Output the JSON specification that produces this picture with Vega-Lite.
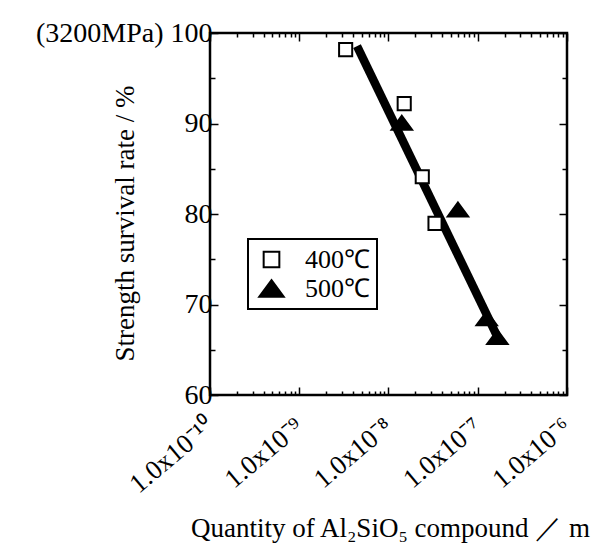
{
  "$schema": "https://vega.github.io/schema/vega-lite/v6.json",
  "width": 357,
  "height": 362,
  "autosize": "none",
  "padding": {"left": 210, "top": 33, "right": 37, "bottom": 153},
  "background": "white",
  "config": {
    "font": "Liberation Serif",
    "view": {"stroke": "black", "strokeWidth": 2.5},
    "axis": {
      "domain": false,
      "grid": false,
      "tickColor": "black",
      "tickWidth": 1.5,
      "labelColor": "black",
      "titleColor": "black",
      "labelFont": "Liberation Serif",
      "titleFont": "Liberation Serif",
      "titleFontWeight": "normal"
    },
    "legend": {"strokeWidth": 2}
  },
  "datasets": {
    "fit": [
      {"q": 4.44e-9, "s": 98.56},
      {"q": 1.77e-7, "s": 65.86}
    ],
    "points": [
      {"temp": "400℃", "q": 3.31e-9, "s": 98.16},
      {"temp": "400℃", "q": 1.50e-8, "s": 92.19},
      {"temp": "400℃", "q": 2.39e-8, "s": 84.12},
      {"temp": "400℃", "q": 3.32e-8, "s": 78.97},
      {"temp": "500℃", "q": 1.41e-8, "s": 90.09},
      {"temp": "500℃", "q": 6.0e-8, "s": 80.5},
      {"temp": "500℃", "q": 1.26e-7, "s": 68.47},
      {"temp": "500℃", "q": 1.66e-7, "s": 66.4}
    ]
  },
  "layer": [
    {
      "data": {"name": "fit"},
      "mark": {"type": "line", "color": "black", "strokeWidth": 8.5},
      "encoding": {
        "x": {
          "field": "q",
          "type": "quantitative",
          "scale": {"type": "log", "domain": [1e-10, 1e-6]},
          "axis": {
            "orient": "bottom",
            "values": [1e-10, 2e-10, 3e-10, 4e-10, 5e-10, 6e-10, 7e-10, 8e-10, 9e-10, 1e-9, 2e-9, 3e-9, 4e-9, 5e-9, 6e-9, 7e-9, 8e-9, 9e-9, 1e-8, 2e-8, 3e-8, 4e-8, 5e-8, 6e-8, 7e-8, 8e-8, 9e-8, 1e-7, 2e-7, 3e-7, 4e-7, 5e-7, 6e-7, 7e-7, 8e-7, 9e-7, 1e-6],
            "tickSize": {"condition": {"test": "abs(log(datum.value)/LN10 - round(log(datum.value)/LN10)) < 0.001", "value": -8}, "value": -4},
            "labelExpr": "abs(log(datum.value)/LN10 - round(log(datum.value)/LN10)) > 0.001 ? '' : datum.value < 5e-10 ? '1.0x10⁻¹⁰' : datum.value < 5e-9 ? '1.0x10⁻⁹' : datum.value < 5e-8 ? '1.0x10⁻⁸' : datum.value < 5e-7 ? '1.0x10⁻⁷' : '1.0x10⁻⁶'",
            "labelOverlap": false,
            "labelBound": false,
            "labelFlush": false,
            "labelAngle": -40,
            "labelAlign": "right",
            "labelBaseline": "middle",
            "labelFont": "Liberation Serif",
            "labelFontSize": 27,
            "labelPadding": 36,
            "title": "Quantity of Al₂SiO₅ compound ／ m",
            "titleFont": "Liberation Serif",
            "titleFontSize": 27,
            "titleX": 180,
            "titleY": 133,
            "titleAlign": "center",
            "titleBaseline": "middle"
          }
        },
        "y": {
          "field": "s",
          "type": "quantitative",
          "scale": {"domain": [60, 100]},
          "axis": {
            "orient": "left",
            "values": [60, 65, 70, 75, 80, 85, 90, 95, 100],
            "tickSize": {"condition": {"test": "datum.value % 10 == 0", "value": -8}, "value": -5},
            "labelExpr": "datum.value % 10 != 0 ? '' : datum.value == 100 ? '(3200MPa) 100' : datum.label",
            "labelFont": "Liberation Serif",
            "labelFontSize": 28,
            "labelPadding": 6,
            "labelLimit": 400,
            "labelBaseline": "middle",
            "title": "Strength survival rate / %",
            "titleFont": "Liberation Serif",
            "titleFontSize": 27,
            "titleAngle": -90,
            "titleX": -85,
            "titleY": 190,
            "titleAlign": "center",
            "titleBaseline": "middle"
          }
        }
      }
    },
    {
      "data": {"name": "points"},
      "mark": {"type": "point", "strokeWidth": 2, "opacity": 1, "size": 420},
      "encoding": {
        "x": {
          "field": "q",
          "type": "quantitative",
          "scale": {"type": "log", "domain": [1e-10, 1e-6]},
          "axis": {
            "orient": "top",
            "values": [1e-10, 2e-10, 3e-10, 4e-10, 5e-10, 6e-10, 7e-10, 8e-10, 9e-10, 1e-9, 2e-9, 3e-9, 4e-9, 5e-9, 6e-9, 7e-9, 8e-9, 9e-9, 1e-8, 2e-8, 3e-8, 4e-8, 5e-8, 6e-8, 7e-8, 8e-8, 9e-8, 1e-7, 2e-7, 3e-7, 4e-7, 5e-7, 6e-7, 7e-7, 8e-7, 9e-7, 1e-6],
            "tickSize": {"condition": {"test": "abs(log(datum.value)/LN10 - round(log(datum.value)/LN10)) < 0.001", "value": -8}, "value": -4},
            "labels": false,
            "title": null
          }
        },
        "y": {
          "field": "s",
          "type": "quantitative",
          "scale": {"domain": [60, 100]},
          "axis": {
            "orient": "right",
            "values": [60, 65, 70, 75, 80, 85, 90, 95, 100],
            "tickSize": {"condition": {"test": "datum.value % 10 == 0", "value": -8}, "value": -5},
            "labels": false,
            "title": null
          }
        },
        "shape": {
          "field": "temp",
          "type": "nominal",
          "scale": {"domain": ["400℃", "500℃"], "range": ["M-0.64,-0.64L0.64,-0.64L0.64,0.64L-0.64,0.64Z", "M0,-0.68L1,0.68L-1,0.68Z"]},
          "legend": {
            "title": null,
            "orient": "none",
            "legendX": 38,
            "legendY": 206,
            "strokeColor": "black",
            "fillColor": "white",
            "padding": 7,
            "symbolOffset": 3,
            "symbolSize": 600,
            "symbolStrokeWidth": 2,
            "labelFontSize": 26,
            "labelColor": "black",
            "labelFont": "Liberation Serif",
            "labelOffset": 20,
            "rowPadding": 2
          }
        },
        "fill": {
          "field": "temp",
          "type": "nominal",
          "scale": {"domain": ["400℃", "500℃"], "range": ["white", "black"]},
          "legend": {
            "title": null,
            "orient": "none",
            "legendX": 38,
            "legendY": 206,
            "strokeColor": "black",
            "fillColor": "white",
            "padding": 7,
            "symbolOffset": 3,
            "symbolSize": 600,
            "symbolStrokeWidth": 2,
            "labelFontSize": 26,
            "labelColor": "black",
            "labelFont": "Liberation Serif",
            "labelOffset": 20,
            "rowPadding": 2
          }
        },
        "stroke": {
          "field": "temp",
          "type": "nominal",
          "scale": {"domain": ["400℃", "500℃"], "range": ["black", "black"]},
          "legend": {
            "title": null,
            "orient": "none",
            "legendX": 38,
            "legendY": 206,
            "strokeColor": "black",
            "fillColor": "white",
            "padding": 7,
            "symbolOffset": 3,
            "symbolSize": 600,
            "symbolStrokeWidth": 2,
            "labelFontSize": 26,
            "labelColor": "black",
            "labelFont": "Liberation Serif",
            "labelOffset": 20,
            "rowPadding": 2
          }
        }
      }
    }
  ]
}
